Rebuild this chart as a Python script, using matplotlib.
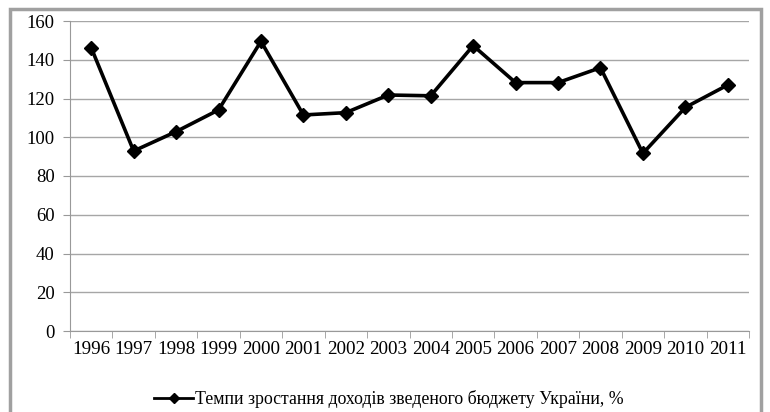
import matplotlib.pyplot as plt
from matplotlib.patches import Rectangle
from matplotlib.lines import Line2D
import numpy as np

plt.rcParams['font.family'] = ['Liberation Serif', 'DejaVu Serif']

years = ['1996', '1997', '1998', '1999', '2000', '2001', '2002', '2003',
         '2004', '2005', '2006', '2007', '2008', '2009', '2010', '2011']
growth = [146.2, 92.9, 102.9, 114.1, 149.5, 111.5, 112.7, 121.8,
          121.4, 147.3, 128.2, 128.2, 135.9, 91.7, 115.4, 127.0]
label = 'Темпи зростання доходів зведеного бюджету України, %'

fig = plt.figure(figsize=(7.7, 4.12), dpi=100)
ax = fig.add_axes([70 / 770, 1 - 331 / 412, 679 / 770, 310 / 412])

x = np.arange(len(years))
ax.plot(x, growth, color='black', linewidth=2.6, marker='D', markersize=7)

ax.set_xlim(-0.5, len(years) - 0.5)
ax.set_ylim(0, 160)
ax.set_yticks(range(0, 161, 20))
ax.set_xticks(x)
ax.set_xticklabels(years)
ax.set_xticks(np.arange(-0.5, len(years), 1), minor=True)
ax.tick_params(axis='x', which='major', length=0, labelsize=13.8, pad=7)
ax.tick_params(axis='x', which='minor', length=5, color='#999999')
ax.tick_params(axis='y', length=5, color='#999999', labelsize=13.5, pad=6)

ax.grid(axis='y', color='#a6a6a6', linewidth=1)
ax.set_axisbelow(True)
for side in ['top', 'right']:
    ax.spines[side].set_visible(False)
for side in ['left', 'bottom']:
    ax.spines[side].set_color('#999999')

handle = Line2D([], [], color='black', linewidth=2, marker='D', markersize=5)
fig.legend([handle], [label], loc='center', bbox_to_anchor=(0.505, 1 - 399 / 412),
           frameon=False, fontsize=12.8, handlelength=2.2, handletextpad=0.1)

fig.patches.append(Rectangle((10 / 770, -0.05), 751 / 770, 1 - 9 / 412 + 0.05,
                             transform=fig.transFigure, fill=False,
                             edgecolor='#a0a0a0', linewidth=2.5))

fig.savefig('out.png', dpi=100)
